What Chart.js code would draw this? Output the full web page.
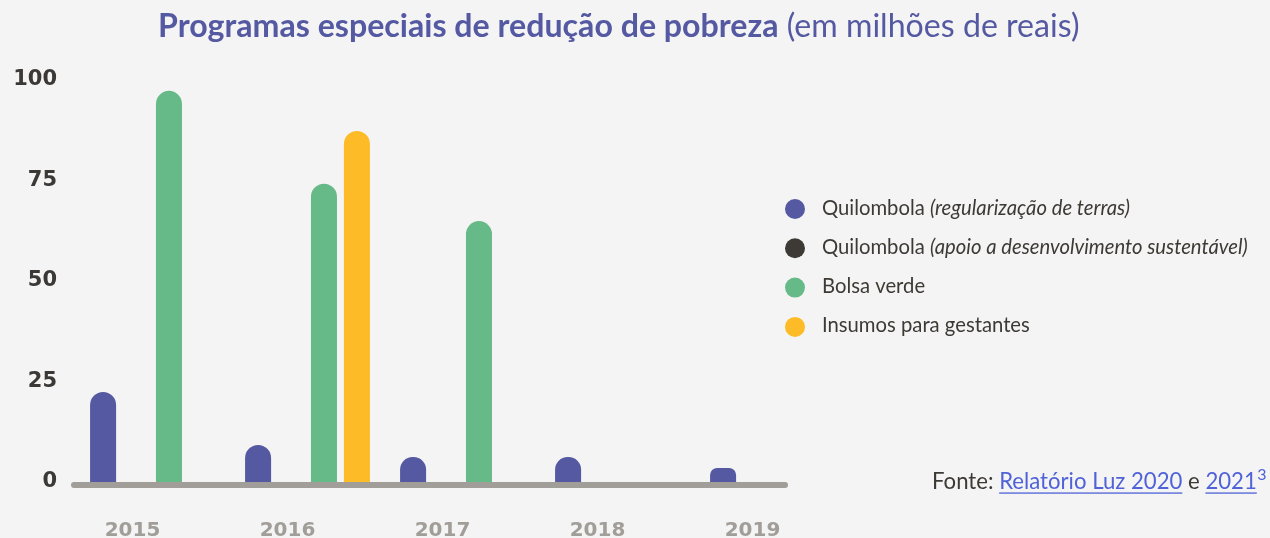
<!DOCTYPE html>
<html><head><meta charset="utf-8">
<script src="https://cdn.jsdelivr.net/npm/chart.js@4.4.1/dist/chart.umd.min.js"></script>
<style>
html,body{margin:0;padding:0;background:#f4f4f4;overflow:hidden}
#wrap{position:relative;width:1270px;height:538px}
canvas{display:block}
</style>
</head><body><div id="wrap"><canvas id="c" width="1270" height="538"></canvas></div>
<script>
// ---- data ----
const years = ['2015', '2016', '2017', '2018', '2019'];
const quilombolaTerras = [22.4, 9.2, 6.2, 6.2, 3.5];
const quilombolaApoio = [null, null, null, null, null];
const bolsaVerde = [97.3, 74.2, 64.9, null, null];
const insumosGestantes = [null, 87.3, null, null, null];
const yTickValues = [0, 25, 50, 75, 100];
const legendMain = ['Quilombola', 'Quilombola', 'Bolsa verde', 'Insumos para gestantes'];
const legendItalic = ['(regularização de terras)', '(apoio a desenvolvimento sustentável)', '', ''];
const titleBold = 'Programas especiais de redução de pobreza';
const titleNormal = ' (em milhões de reais)';
const sourceParts = ['Fonte: ', 'Relatório Luz 2020', ' e ', '2021', '3'];

// ---- styles ----
const COLORS = ['#5459a2', '#3d3a35', '#66ba88', '#fdbc27'];
const TEXT_DARK = '#3d3a35';
const TITLE_COLOR = '#5459a2';
const LINK_COLOR = '#4f62d8';
const AXIS_GRAY = '#a19d98';
const FONT = 'Lato, "DejaVu Sans", sans-serif';

function fitSize(ctx, parts, target, base) {
  let w = 0;
  parts.forEach(p => { ctx.font = p.style + ' ' + base + 'px ' + FONT; w += ctx.measureText(p.text).width; });
  return base * target / w;
}

const overlay = {
  id: 'overlay',
  afterDatasetsDraw(chart) {
    const ctx = chart.ctx;
    const ca = chart.chartArea;
    const y0 = chart.scales.y.getPixelForValue(0);
    ctx.save();
    ctx.strokeStyle = AXIS_GRAY;
    ctx.lineWidth = 6;
    ctx.lineCap = 'round';
    ctx.beginPath();
    ctx.moveTo(ca.left - 1, y0 + 3);
    ctx.lineTo(ca.right - 65, y0 + 3);
    ctx.stroke();
    ctx.restore();
  },
  afterDraw(chart) {
    const ctx = chart.ctx;
    ctx.save();
    ctx.textBaseline = 'middle';
    ctx.textAlign = 'left';
    // title
    const tParts = [{text: titleBold, style: '700'}, {text: titleNormal, style: '400'}];
    const ts = fitSize(ctx, tParts, 922, 28);
    let x = 158;
    ctx.fillStyle = TITLE_COLOR;
    tParts.forEach(p => {
      ctx.font = p.style + ' ' + ts + 'px ' + FONT;
      ctx.fillText(p.text, x, 27);
      x += ctx.measureText(p.text).width;
    });
    // legend
    const ls = fitSize(ctx, [{text: legendMain[1] + ' ', style: '400'}, {text: legendItalic[1], style: 'italic 400'}], 426, 17);
    legendMain.forEach((m, i) => {
      const cy = 209 + i * 39.3;
      ctx.fillStyle = COLORS[i];
      ctx.beginPath();
      ctx.arc(795, cy, 10, 0, Math.PI * 2);
      ctx.fill();
      let lx = 822;
      ctx.fillStyle = TEXT_DARK;
      ctx.font = '400 ' + ls + 'px ' + FONT;
      const mt = legendItalic[i] ? m + ' ' : m;
      ctx.fillText(mt, lx, cy - 1);
      lx += ctx.measureText(mt).width;
      if (legendItalic[i]) {
        ctx.font = 'italic 400 ' + ls + 'px ' + FONT;
        ctx.fillText(legendItalic[i], lx, cy - 1);
      }
    });
    // source
    const sParts = sourceParts.slice(0, 4).map(t => ({text: t, style: '400'}));
    const ss = fitSize(ctx, sParts, 325, 17);
    let sx = 932;
    const sy = 482;
    sourceParts.slice(0, 4).forEach((t, i) => {
      ctx.font = '400 ' + ss + 'px ' + FONT;
      const link = (i === 1 || i === 3);
      ctx.fillStyle = link ? LINK_COLOR : TEXT_DARK;
      ctx.fillText(t, sx, sy);
      const w = ctx.measureText(t).width;
      if (link) {
        ctx.fillRect(sx, sy + ss * 0.47, w, 1.3);
      }
      sx += w;
    });
    ctx.font = '400 ' + (ss * 0.72) + 'px ' + FONT;
    ctx.fillStyle = LINK_COLOR;
    ctx.fillText(sourceParts[4], sx + 0.5, sy - 7);
    ctx.restore();
  }
};

const barStyle = {
  borderRadius: {topLeft: 13, topRight: 13, bottomLeft: 0, bottomRight: 0},
  borderSkipped: 'bottom',
  categoryPercentage: 0.85,
  barPercentage: 0.79
};

new Chart(document.getElementById('c'), {
  type: 'bar',
  data: {
    labels: years,
    datasets: [
      Object.assign({label: legendMain[0] + ' ' + legendItalic[0], data: quilombolaTerras, backgroundColor: COLORS[0]}, barStyle),
      Object.assign({label: legendMain[1] + ' ' + legendItalic[1], data: quilombolaApoio, backgroundColor: COLORS[1]}, barStyle),
      Object.assign({label: legendMain[2], data: bolsaVerde, backgroundColor: COLORS[2]}, barStyle),
      Object.assign({label: legendMain[3], data: insumosGestantes, backgroundColor: COLORS[3]}, barStyle)
    ]
  },
  options: {
    responsive: false,
    animation: false,
    devicePixelRatio: 1,
    layout: {padding: {top: 80, left: 12, right: 420, bottom: 0}},
    plugins: {legend: {display: false}, title: {display: false}, tooltip: {enabled: false}},
    scales: {
      x: {
        grid: {display: false, drawTicks: false},
        border: {display: false},
        ticks: {
          color: AXIS_GRAY,
          font: {family: '"DejaVu Sans", sans-serif', weight: 'bold', size: 20},
          padding: 37,
          labelOffset: -20,
          maxRotation: 0,
          autoSkip: false
        },
        afterFit(s) { s.height = 56; }
      },
      y: {
        min: 0, max: 100,
        afterBuildTicks(s) { s.ticks = yTickValues.map(v => ({value: v})); },
        grid: {display: false, drawTicks: false},
        border: {display: false},
        ticks: {
          color: '#3b3835',
          font: {family: '"DejaVu Sans", sans-serif', weight: 'bold', size: 21},
          padding: 18
        },
        afterFit(s) { s.width = 63; }
      }
    }
  },
  plugins: [overlay]
});
</script>
</body></html>
